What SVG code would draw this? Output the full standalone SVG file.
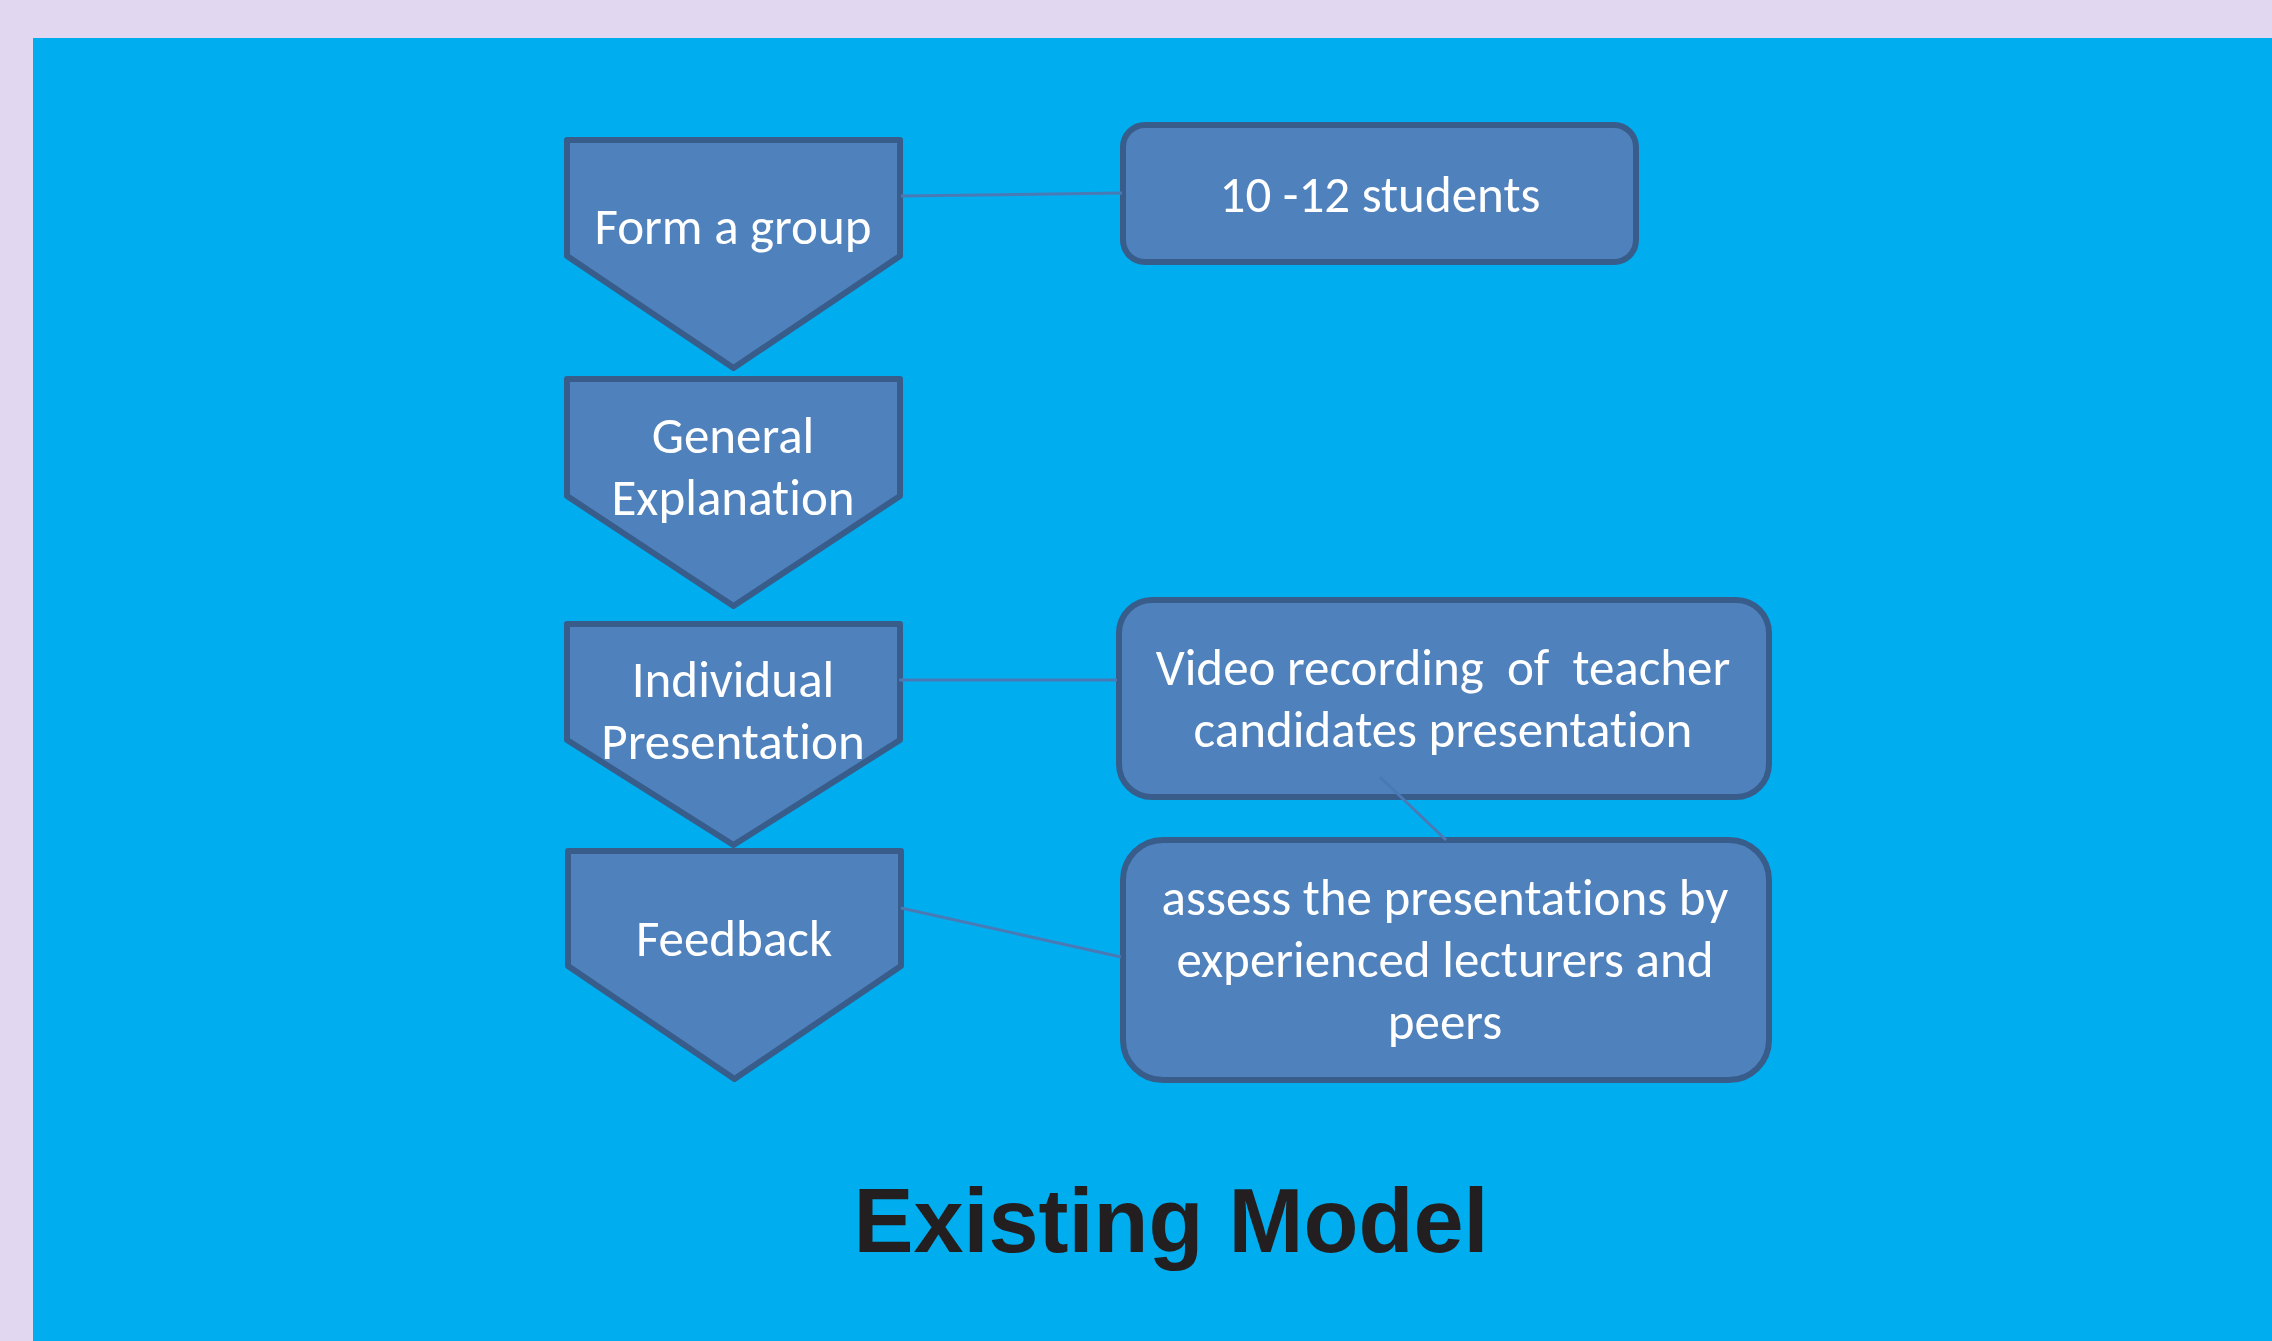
<svg xmlns="http://www.w3.org/2000/svg" width="2272" height="1341" viewBox="0 0 2272 1341">
  <style>
    .step { fill: #4F81BD; stroke: #385D8A; stroke-width: 6; stroke-linejoin: round; }
    .box { fill: #4F81BD; stroke: #385D8A; stroke-width: 6; }
    .lbl { fill: #FFFFFF; font-family: Carlito, Calibri, Lato, "Open Sans", sans-serif; font-size: 51px; text-anchor: middle; font-variant-ligatures: none; }
    .conn { stroke: #4A7AB5; stroke-width: 3; fill: none; }
    .title { fill: #231F20; font-family: "Liberation Sans", Arial, sans-serif; font-weight: bold; font-size: 90px; text-anchor: middle; }
  </style>
  <rect x="0" y="0" width="2272" height="1341" fill="#E1D7F1"/>
  <rect x="33" y="38" width="2239" height="1303" fill="#00AEEF"/>

  <g id="step-form-group">
    <path class="step" d="M567,140 H900 V256 L733.5,368 L567,256 Z"/>
    <text class="lbl" x="733" y="244">Form a group</text>
  </g>
  <g id="step-general-explanation">
    <path class="step" d="M567,379 H900 V496 L733.5,606 L567,496 Z"/>
    <text class="lbl" x="733" y="453">General</text>
    <text class="lbl" x="733" y="515">Explanation</text>
  </g>
  <g id="step-individual-presentation">
    <path class="step" d="M567,624 H900 V740 L733.5,845 L567,740 Z"/>
    <text class="lbl" x="733" y="697">Individual</text>
    <text class="lbl" x="733" y="759">Presentation</text>
  </g>
  <g id="step-feedback">
    <path class="step" d="M568,851 H901 V966 L734.5,1079 L568,966 Z"/>
    <text class="lbl" x="734" y="956">Feedback</text>
  </g>

  <g id="box-students">
    <rect class="box" x="1123" y="125" width="513" height="137" rx="22" ry="22"/>
    <text class="lbl" x="1380" y="212">10 -12 students</text>
  </g>
  <g id="box-video">
    <rect class="box" x="1119" y="600" width="650" height="197" rx="33" ry="33"/>
    <text class="lbl" x="1443" y="685" xml:space="preserve">Video recording  of  teacher</text>
    <text class="lbl" x="1443" y="747">candidates presentation</text>
  </g>
  <g id="box-assess">
    <rect class="box" x="1123" y="840" width="646" height="240" rx="40" ry="40"/>
    <text class="lbl" x="1445" y="915">assess the presentations by</text>
    <text class="lbl" x="1445" y="977">experienced lecturers and</text>
    <text class="lbl" x="1445" y="1039">peers</text>
  </g>

  <g id="connectors">
    <line class="conn" x1="901" y1="196" x2="1122" y2="193"/>
    <line class="conn" x1="899" y1="680" x2="1117" y2="680"/>
    <line class="conn" x1="901" y1="908" x2="1121" y2="957"/>
    <line class="conn" x1="1380" y1="777" x2="1446" y2="840"/>
  </g>

  <text class="title" x="1171" y="1252">Existing Model</text>
</svg>
